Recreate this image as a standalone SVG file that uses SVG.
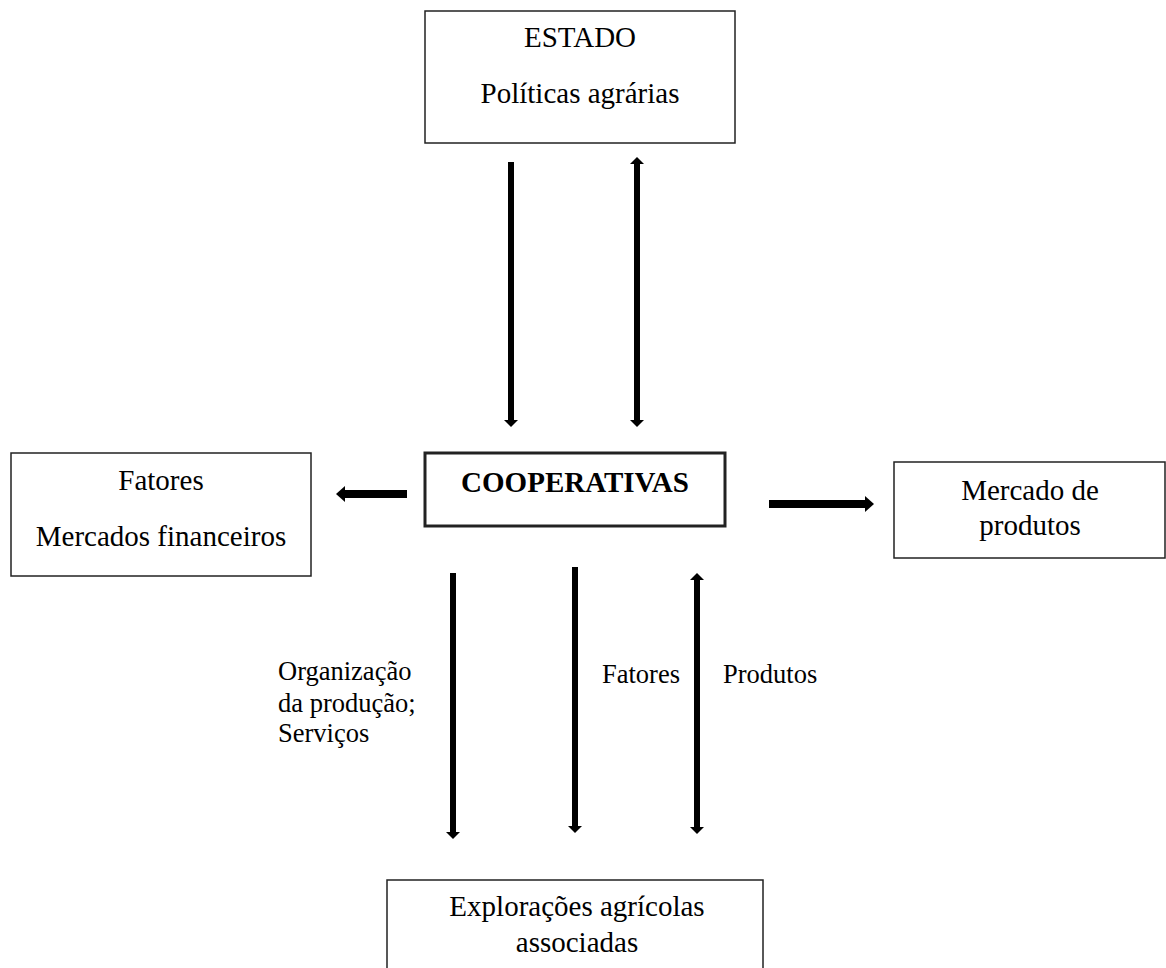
<svg xmlns="http://www.w3.org/2000/svg" width="1166" height="968" viewBox="0 0 1166 968">
<style>
.box{fill:#fff;stroke:#222;stroke-width:1.5}
.bold{stroke-width:3}
text{font-family:"Liberation Serif","Times New Roman",serif;fill:#000}
.t{font-size:29px;text-anchor:middle}
.b{font-weight:bold}
.lab{font-size:26.5px}
.v{stroke:#000;stroke-width:6;fill:none}
.h{stroke:#000;stroke-width:8;fill:none}
</style>
<defs>
<marker id="av" markerUnits="userSpaceOnUse" markerWidth="8" markerHeight="14" refX="0" refY="7" orient="auto-start-reverse"><path d="M0,0 L7,7 L0,14 Z" fill="#000"/></marker>
<marker id="ah" markerUnits="userSpaceOnUse" markerWidth="10" markerHeight="18" refX="0" refY="8" orient="auto-start-reverse"><path d="M0,0 L9,8 L0,16 Z" fill="#000"/></marker>
</defs>
<g id="connectors">
<line class="v" x1="511" y1="162" x2="511" y2="420" marker-end="url(#av)"/>
<line class="v" x1="637" y1="164" x2="637" y2="420" marker-start="url(#av)" marker-end="url(#av)"/>
<line class="h" x1="407" y1="494" x2="345" y2="494" marker-end="url(#ah)"/>
<line class="h" x1="769" y1="504" x2="865" y2="504" marker-end="url(#ah)"/>
<line class="v" x1="453" y1="573" x2="453" y2="832" marker-end="url(#av)"/>
<line class="v" x1="575" y1="567" x2="575" y2="826" marker-end="url(#av)"/>
<line class="v" x1="697" y1="580" x2="697" y2="827" marker-start="url(#av)" marker-end="url(#av)"/>
<text class="lab" x="278" y="680">Organização</text>
<text class="lab" x="278" y="712">da produção;</text>
<text class="lab" x="278" y="742">Serviços</text>
<text class="lab" x="602" y="683">Fatores</text>
<text class="lab" x="723" y="683">Produtos</text>
</g>
<g id="estado">
<rect class="box" x="425" y="11" width="310" height="132"/>
<text class="t" x="580" y="47">ESTADO</text>
<text class="t" x="580" y="103">Políticas agrárias</text>
</g>
<g id="cooperativas">
<rect class="box bold" x="425" y="453" width="300" height="73"/>
<text class="t b" x="575" y="492">COOPERATIVAS</text>
</g>
<g id="fatores">
<rect class="box" x="11" y="453" width="300" height="123"/>
<text class="t" x="161" y="490">Fatores</text>
<text class="t" x="161" y="546">Mercados financeiros</text>
</g>
<g id="mercado">
<rect class="box" x="894" y="462" width="271" height="96"/>
<text class="t" x="1030" y="500">Mercado de</text>
<text class="t" x="1030" y="535">produtos</text>
</g>
<g id="exploracoes">
<rect class="box" x="387" y="880" width="376" height="100"/>
<text class="t" x="577" y="916">Explorações agrícolas</text>
<text class="t" x="577" y="952">associadas</text>
</g>
</svg>
